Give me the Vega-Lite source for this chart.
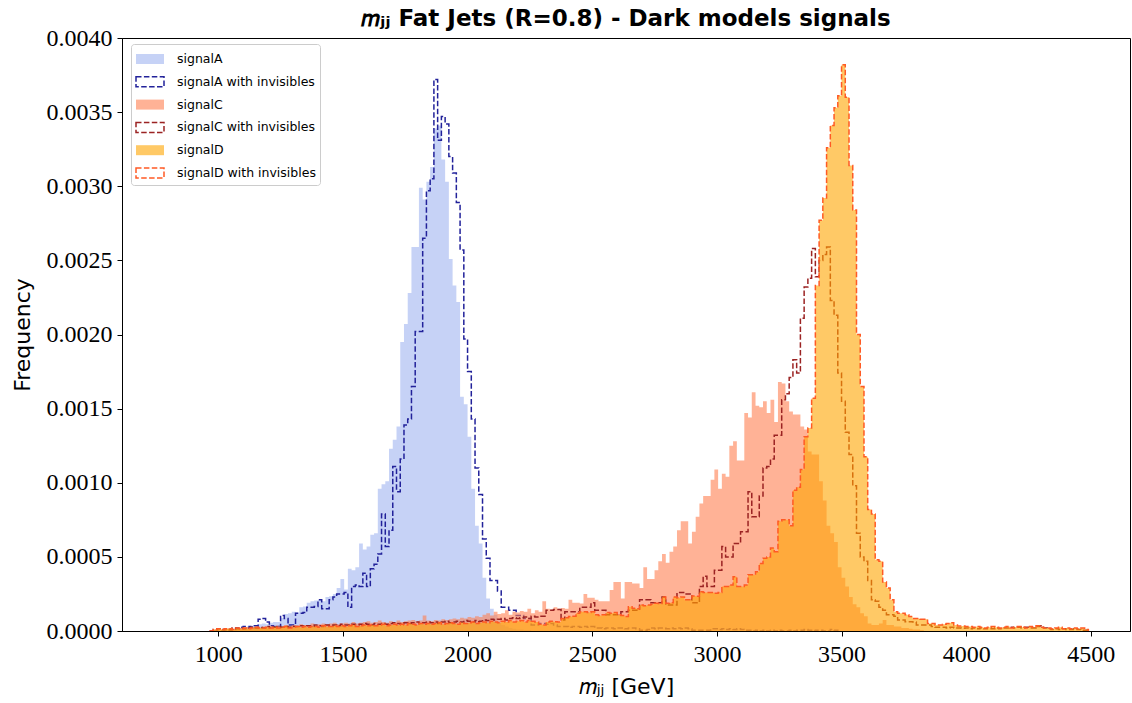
{
"$schema": "https://vega.github.io/schema/vega-lite/v6.json",
"width": 1008, "height": 593,
"autosize": {"type": "none"},
"padding": {"left": 122, "top": 38, "right": 2, "bottom": 72},
"background": "white",
"title": {"text": "𝑚ⱼⱼ Fat Jets (R=0.8) - Dark models signals", "font": "DejaVu Sans", "fontSize": 23, "fontWeight": "bold", "color": "black", "anchor": "middle", "frame": "group", "baseline": "alphabetic", "offset": 0, "dy": 23},
"config": {"view": {"stroke": "black", "strokeWidth": 1},
  "legend": {"padding": 4, "rowPadding": 3.8, "fillColor": "white", "strokeColor": "#cccccc", "cornerRadius": 3, "symbolSize": 400, "symbolStrokeWidth": 1.5, "symbolOpacity": 1, "labelFont": "DejaVu Sans", "labelFontSize": 12.5, "labelColor": "black", "labelOffset": 20}},
"datasets": {
"A": [{"x":980,"y":0},{"x":995,"y":0},{"x":1010,"y":0},{"x":1025,"y":0.000005},{"x":1040,"y":0.000005},{"x":1055,"y":0.00001},{"x":1070,"y":0.00001},{"x":1085,"y":0.000015},{"x":1100,"y":0.00002},{"x":1115,"y":0.00003},{"x":1130,"y":0.000035},{"x":1145,"y":0.00004},{"x":1160,"y":0.000045},{"x":1175,"y":0.00005},{"x":1190,"y":0.000045},{"x":1205,"y":0.000055},{"x":1220,"y":0.00006},{"x":1235,"y":0.00006},{"x":1250,"y":0.00009},{"x":1265,"y":0.000115},{"x":1280,"y":0.00012},{"x":1295,"y":0.00013},{"x":1310,"y":0.000125},{"x":1325,"y":0.00016},{"x":1340,"y":0.000165},{"x":1355,"y":0.00019},{"x":1370,"y":0.0002},{"x":1385,"y":0.000205},{"x":1400,"y":0.00021},{"x":1415,"y":0.0002},{"x":1430,"y":0.00023},{"x":1445,"y":0.000235},{"x":1460,"y":0.00025},{"x":1475,"y":0.00029},{"x":1490,"y":0.00035},{"x":1505,"y":0.00028},{"x":1520,"y":0.00042},{"x":1535,"y":0.00041},{"x":1550,"y":0.00043},{"x":1565,"y":0.00059},{"x":1580,"y":0.00055},{"x":1595,"y":0.00057},{"x":1610,"y":0.00065},{"x":1625,"y":0.00066},{"x":1640,"y":0.00096},{"x":1655,"y":0.00099},{"x":1670,"y":0.00101},{"x":1685,"y":0.00123},{"x":1700,"y":0.00129},{"x":1715,"y":0.00138},{"x":1730,"y":0.00195},{"x":1745,"y":0.00207},{"x":1760,"y":0.00228},{"x":1775,"y":0.00259},{"x":1790,"y":0.00259},{"x":1805,"y":0.00299},{"x":1820,"y":0.00291},{"x":1835,"y":0.00303},{"x":1850,"y":0.00313},{"x":1865,"y":0.00339},{"x":1880,"y":0.00341},{"x":1895,"y":0.00318},{"x":1910,"y":0.00303},{"x":1925,"y":0.00251},{"x":1940,"y":0.00233},{"x":1955,"y":0.00222},{"x":1970,"y":0.00158},{"x":1985,"y":0.00153},{"x":2000,"y":0.00131},{"x":2015,"y":0.00096},{"x":2030,"y":0.00071},{"x":2045,"y":0.00059},{"x":2060,"y":0.00036},{"x":2075,"y":0.00022},{"x":2090,"y":0.00015},{"x":2105,"y":0.00011},{"x":2120,"y":0.00007},{"x":2135,"y":0.00004},{"x":2150,"y":0.00003},{"x":2165,"y":0.00002},{"x":2180,"y":0.000015},{"x":2195,"y":0.00001},{"x":2210,"y":0.00001},{"x":2225,"y":0.000005},{"x":2240,"y":0.000005},{"x":2255,"y":0}],
"Ai": [{"x":980,"y":0},{"x":995,"y":0},{"x":1010,"y":0},{"x":1025,"y":0},{"x":1040,"y":0.000005},{"x":1055,"y":0.00001},{"x":1070,"y":0.00002},{"x":1085,"y":0.000025},{"x":1100,"y":0.00003},{"x":1115,"y":0.00003},{"x":1130,"y":0.000025},{"x":1145,"y":0.000035},{"x":1160,"y":0.00008},{"x":1175,"y":0.000085},{"x":1190,"y":0.00006},{"x":1205,"y":0.000035},{"x":1220,"y":0.00003},{"x":1235,"y":0.00003},{"x":1250,"y":0.000105},{"x":1265,"y":0.000085},{"x":1280,"y":0.00004},{"x":1295,"y":0.00004},{"x":1310,"y":0.00012},{"x":1325,"y":0.00012},{"x":1340,"y":0.000125},{"x":1355,"y":0.00016},{"x":1370,"y":0.00016},{"x":1385,"y":0.000165},{"x":1400,"y":0.00021},{"x":1415,"y":0.00015},{"x":1430,"y":0.00015},{"x":1445,"y":0.00021},{"x":1460,"y":0.00023},{"x":1475,"y":0.00025},{"x":1490,"y":0.00025},{"x":1505,"y":0.00026},{"x":1520,"y":0.00016},{"x":1535,"y":0.0003},{"x":1550,"y":0.00031},{"x":1565,"y":0.0003},{"x":1580,"y":0.00039},{"x":1595,"y":0.0003},{"x":1610,"y":0.00042},{"x":1625,"y":0.00045},{"x":1640,"y":0.00052},{"x":1655,"y":0.00079},{"x":1670,"y":0.00057},{"x":1685,"y":0.00068},{"x":1700,"y":0.00111},{"x":1715,"y":0.00094},{"x":1730,"y":0.00116},{"x":1745,"y":0.00139},{"x":1760,"y":0.00143},{"x":1775,"y":0.00165},{"x":1790,"y":0.00202},{"x":1805,"y":0.00202},{"x":1820,"y":0.00265},{"x":1835,"y":0.00297},{"x":1850,"y":0.00305},{"x":1865,"y":0.00372},{"x":1880,"y":0.00331},{"x":1895,"y":0.00347},{"x":1910,"y":0.00342},{"x":1925,"y":0.0032},{"x":1940,"y":0.00309},{"x":1955,"y":0.00289},{"x":1970,"y":0.00257},{"x":1985,"y":0.00197},{"x":2000,"y":0.00175},{"x":2015,"y":0.00143},{"x":2030,"y":0.0011},{"x":2045,"y":0.00092},{"x":2060,"y":0.00062},{"x":2075,"y":0.00049},{"x":2090,"y":0.00034},{"x":2105,"y":0.00034},{"x":2120,"y":0.00027},{"x":2135,"y":0.00016},{"x":2150,"y":0.00016},{"x":2165,"y":0.00014},{"x":2180,"y":0.00014},{"x":2195,"y":0.000105},{"x":2210,"y":0.000105},{"x":2225,"y":0.000085},{"x":2240,"y":0.000085},{"x":2255,"y":0.00004},{"x":2270,"y":0.00004},{"x":2285,"y":0.00005},{"x":2300,"y":0.00005},{"x":2315,"y":0.000045},{"x":2330,"y":0.00005},{"x":2345,"y":0.00004},{"x":2360,"y":0.00003},{"x":2375,"y":0.00003},{"x":2390,"y":0.00003},{"x":2405,"y":0.000025},{"x":2420,"y":0.00003},{"x":2435,"y":0.00003},{"x":2450,"y":0.000025},{"x":2465,"y":0.00003},{"x":2480,"y":0.000025},{"x":2495,"y":0.00003},{"x":2510,"y":0.00002},{"x":2525,"y":0.00002},{"x":2540,"y":0.000015},{"x":2555,"y":0.00002},{"x":2570,"y":0.00002},{"x":2585,"y":0.000015},{"x":2600,"y":0.00002},{"x":2615,"y":0.00002},{"x":2630,"y":0.000015},{"x":2645,"y":0.00002},{"x":2660,"y":0.00002},{"x":2675,"y":0.000015},{"x":2690,"y":0.000005},{"x":2705,"y":0.000005},{"x":2720,"y":0.00001},{"x":2735,"y":0.00002},{"x":2750,"y":0.000015},{"x":2765,"y":0.00002},{"x":2780,"y":0.00002},{"x":2795,"y":0.000015},{"x":2810,"y":0.00002},{"x":2825,"y":0.000015},{"x":2840,"y":0.00002},{"x":2855,"y":0.000015},{"x":2870,"y":0.00002},{"x":2885,"y":0.000015},{"x":2900,"y":0.000005},{"x":2915,"y":0.000005},{"x":2930,"y":0.000005},{"x":2945,"y":0.000005},{"x":2960,"y":0.000005},{"x":2975,"y":0.000015},{"x":2990,"y":0.000015},{"x":3005,"y":0.00001},{"x":3020,"y":0.000015},{"x":3035,"y":0.00001},{"x":3050,"y":0.000015},{"x":3065,"y":0.00001},{"x":3080,"y":0.000015},{"x":3095,"y":0.00001},{"x":3110,"y":0.000005},{"x":3125,"y":0.000005},{"x":3140,"y":0},{"x":3155,"y":0.000005},{"x":3170,"y":0},{"x":3185,"y":0.000005},{"x":3200,"y":0},{"x":3215,"y":0.000005},{"x":3230,"y":0},{"x":3245,"y":0.000005},{"x":3260,"y":0},{"x":3275,"y":0},{"x":3290,"y":0.000005},{"x":3305,"y":0},{"x":3320,"y":0.000005},{"x":3335,"y":0.000005},{"x":3350,"y":0.00001},{"x":3365,"y":0.000005},{"x":3380,"y":0},{"x":3395,"y":0.000005},{"x":3410,"y":0.000005},{"x":3425,"y":0},{"x":3440,"y":0},{"x":3455,"y":0.00001},{"x":3470,"y":0.000005},{"x":3485,"y":0}],
"C": [{"x":965,"y":0},{"x":980,"y":0.00001},{"x":995,"y":0.000015},{"x":1010,"y":0.00001},{"x":1025,"y":0.000015},{"x":1040,"y":0.00002},{"x":1055,"y":0.000015},{"x":1070,"y":0.00002},{"x":1085,"y":0.00002},{"x":1100,"y":0.000025},{"x":1115,"y":0.00002},{"x":1130,"y":0.000025},{"x":1145,"y":0.00003},{"x":1160,"y":0.000025},{"x":1175,"y":0.00003},{"x":1190,"y":0.00003},{"x":1205,"y":0.000035},{"x":1220,"y":0.00003},{"x":1235,"y":0.000035},{"x":1250,"y":0.00003},{"x":1265,"y":0.00004},{"x":1280,"y":0.000035},{"x":1295,"y":0.00004},{"x":1310,"y":0.000035},{"x":1325,"y":0.000045},{"x":1340,"y":0.00004},{"x":1355,"y":0.00004},{"x":1370,"y":0.00005},{"x":1385,"y":0.00004},{"x":1400,"y":0.000045},{"x":1415,"y":0.00005},{"x":1430,"y":0.000045},{"x":1445,"y":0.00005},{"x":1460,"y":0.000055},{"x":1475,"y":0.000045},{"x":1490,"y":0.00005},{"x":1505,"y":0.000055},{"x":1520,"y":0.00005},{"x":1535,"y":0.00006},{"x":1550,"y":0.00005},{"x":1565,"y":0.000055},{"x":1580,"y":0.00006},{"x":1595,"y":0.000065},{"x":1610,"y":0.000055},{"x":1625,"y":0.00006},{"x":1640,"y":0.00007},{"x":1655,"y":0.00006},{"x":1670,"y":0.000055},{"x":1685,"y":0.000065},{"x":1700,"y":0.00006},{"x":1715,"y":0.00007},{"x":1730,"y":0.00006},{"x":1745,"y":0.000065},{"x":1760,"y":0.00007},{"x":1775,"y":0.000075},{"x":1790,"y":0.000065},{"x":1805,"y":0.00007},{"x":1820,"y":0.000105},{"x":1835,"y":0.00007},{"x":1850,"y":0.000065},{"x":1865,"y":0.000075},{"x":1880,"y":0.00007},{"x":1895,"y":0.00008},{"x":1910,"y":0.000075},{"x":1925,"y":0.00008},{"x":1940,"y":0.000085},{"x":1955,"y":0.00008},{"x":1970,"y":0.00009},{"x":1985,"y":0.000085},{"x":2000,"y":0.000095},{"x":2015,"y":0.00009},{"x":2030,"y":0.0001},{"x":2045,"y":0.000095},{"x":2060,"y":0.00011},{"x":2075,"y":0.00012},{"x":2090,"y":0.000105},{"x":2105,"y":0.00013},{"x":2120,"y":0.000115},{"x":2135,"y":0.00012},{"x":2150,"y":0.00014},{"x":2165,"y":0.00011},{"x":2180,"y":0.00013},{"x":2195,"y":0.000125},{"x":2210,"y":0.000135},{"x":2225,"y":0.00013},{"x":2240,"y":0.00015},{"x":2255,"y":0.00012},{"x":2270,"y":0.00014},{"x":2285,"y":0.00013},{"x":2300,"y":0.0002},{"x":2315,"y":0.00015},{"x":2330,"y":0.000145},{"x":2345,"y":0.00016},{"x":2360,"y":0.00015},{"x":2375,"y":0.000155},{"x":2390,"y":0.00015},{"x":2405,"y":0.00021},{"x":2420,"y":0.00019},{"x":2435,"y":0.00019},{"x":2450,"y":0.000185},{"x":2465,"y":0.00025},{"x":2480,"y":0.000225},{"x":2495,"y":0.000225},{"x":2510,"y":0.00021},{"x":2525,"y":0.0002},{"x":2540,"y":0.0002},{"x":2555,"y":0.0002},{"x":2570,"y":0.000276},{"x":2585,"y":0.00033},{"x":2600,"y":0.00033},{"x":2615,"y":0.00022},{"x":2630,"y":0.00033},{"x":2645,"y":0.00033},{"x":2660,"y":0.00032},{"x":2675,"y":0.00032},{"x":2690,"y":0.00029},{"x":2705,"y":0.00043},{"x":2720,"y":0.00035},{"x":2735,"y":0.00035},{"x":2750,"y":0.00041},{"x":2765,"y":0.00047},{"x":2780,"y":0.00052},{"x":2795,"y":0.00046},{"x":2810,"y":0.000535},{"x":2825,"y":0.00057},{"x":2840,"y":0.00068},{"x":2855,"y":0.00074},{"x":2870,"y":0.00074},{"x":2885,"y":0.00059},{"x":2900,"y":0.00067},{"x":2915,"y":0.00077},{"x":2930,"y":0.00086},{"x":2945,"y":0.00091},{"x":2960,"y":0.00091},{"x":2975,"y":0.00102},{"x":2990,"y":0.00109},{"x":3005,"y":0.00096},{"x":3020,"y":0.00106},{"x":3035,"y":0.00104},{"x":3050,"y":0.00125},{"x":3065,"y":0.00128},{"x":3080,"y":0.00115},{"x":3095,"y":0.00115},{"x":3110,"y":0.00147},{"x":3125,"y":0.00144},{"x":3140,"y":0.00161},{"x":3155,"y":0.00152},{"x":3170,"y":0.00151},{"x":3185,"y":0.00155},{"x":3200,"y":0.00147},{"x":3215,"y":0.00156},{"x":3230,"y":0.00141},{"x":3245,"y":0.00168},{"x":3260,"y":0.00167},{"x":3275,"y":0.00155},{"x":3290,"y":0.00148},{"x":3305,"y":0.00146},{"x":3320,"y":0.00146},{"x":3335,"y":0.00138},{"x":3350,"y":0.00136},{"x":3365,"y":0.00121},{"x":3380,"y":0.00119},{"x":3395,"y":0.00119},{"x":3410,"y":0.00101},{"x":3425,"y":0.00088},{"x":3440,"y":0.00071},{"x":3455,"y":0.00066},{"x":3470,"y":0.0006},{"x":3485,"y":0.00043},{"x":3500,"y":0.00036},{"x":3515,"y":0.0003},{"x":3530,"y":0.00023},{"x":3545,"y":0.00018},{"x":3560,"y":0.00016},{"x":3575,"y":0.00012},{"x":3590,"y":0.0001},{"x":3605,"y":0.00005},{"x":3620,"y":0.00004},{"x":3635,"y":0.00004},{"x":3650,"y":0.00005},{"x":3665,"y":0.000074},{"x":3680,"y":0.00004},{"x":3695,"y":0.00004},{"x":3710,"y":0.00003},{"x":3725,"y":0.00003},{"x":3740,"y":0.00002},{"x":3755,"y":0.00002},{"x":3770,"y":0.000015},{"x":3785,"y":0.00001},{"x":3800,"y":0.00001},{"x":3815,"y":0.000005},{"x":3830,"y":0}],
"Ci": [{"x":965,"y":0},{"x":980,"y":0.00001},{"x":995,"y":0.000015},{"x":1010,"y":0.00001},{"x":1025,"y":0.000015},{"x":1040,"y":0.00001},{"x":1055,"y":0.00002},{"x":1070,"y":0.000015},{"x":1085,"y":0.00002},{"x":1100,"y":0.000015},{"x":1115,"y":0.00002},{"x":1130,"y":0.000025},{"x":1145,"y":0.00002},{"x":1160,"y":0.000025},{"x":1175,"y":0.00002},{"x":1190,"y":0.00003},{"x":1205,"y":0.00002},{"x":1220,"y":0.000025},{"x":1235,"y":0.00003},{"x":1250,"y":0.000025},{"x":1265,"y":0.00003},{"x":1280,"y":0.000025},{"x":1295,"y":0.00003},{"x":1310,"y":0.00003},{"x":1325,"y":0.000035},{"x":1340,"y":0.00003},{"x":1355,"y":0.000035},{"x":1370,"y":0.00003},{"x":1385,"y":0.00004},{"x":1400,"y":0.000035},{"x":1415,"y":0.00003},{"x":1430,"y":0.00004},{"x":1445,"y":0.000035},{"x":1460,"y":0.00004},{"x":1475,"y":0.000035},{"x":1490,"y":0.000045},{"x":1505,"y":0.00004},{"x":1520,"y":0.00004},{"x":1535,"y":0.000045},{"x":1550,"y":0.00004},{"x":1565,"y":0.000045},{"x":1580,"y":0.00005},{"x":1595,"y":0.000045},{"x":1610,"y":0.00004},{"x":1625,"y":0.00005},{"x":1640,"y":0.000045},{"x":1655,"y":0.00005},{"x":1670,"y":0.000045},{"x":1685,"y":0.00005},{"x":1700,"y":0.000055},{"x":1715,"y":0.00005},{"x":1730,"y":0.000045},{"x":1745,"y":0.000055},{"x":1760,"y":0.00005},{"x":1775,"y":0.000055},{"x":1790,"y":0.00006},{"x":1805,"y":0.00005},{"x":1820,"y":0.000055},{"x":1835,"y":0.00006},{"x":1850,"y":0.000055},{"x":1865,"y":0.00006},{"x":1880,"y":0.00005},{"x":1895,"y":0.00006},{"x":1910,"y":0.000065},{"x":1925,"y":0.000055},{"x":1940,"y":0.00006},{"x":1955,"y":0.000065},{"x":1970,"y":0.00006},{"x":1985,"y":0.00007},{"x":2000,"y":0.000065},{"x":2015,"y":0.00006},{"x":2030,"y":0.00007},{"x":2045,"y":0.000065},{"x":2060,"y":0.000075},{"x":2075,"y":0.00007},{"x":2090,"y":0.00008},{"x":2105,"y":0.000075},{"x":2120,"y":0.00008},{"x":2135,"y":0.000085},{"x":2150,"y":0.000075},{"x":2165,"y":0.000085},{"x":2180,"y":0.00009},{"x":2195,"y":0.000085},{"x":2210,"y":0.00009},{"x":2225,"y":0.000095},{"x":2240,"y":0.000085},{"x":2255,"y":0.0001},{"x":2270,"y":0.000095},{"x":2285,"y":0.0001},{"x":2300,"y":0.0001},{"x":2315,"y":0.00014},{"x":2330,"y":0.00014},{"x":2345,"y":0.000145},{"x":2360,"y":0.000145},{"x":2375,"y":0.000075},{"x":2390,"y":0.00013},{"x":2405,"y":0.00013},{"x":2420,"y":0.00013},{"x":2435,"y":0.00013},{"x":2450,"y":0.00016},{"x":2465,"y":0.00016},{"x":2480,"y":0.00016},{"x":2495,"y":0.00019},{"x":2510,"y":0.00014},{"x":2525,"y":0.00014},{"x":2540,"y":0.00014},{"x":2555,"y":0.00011},{"x":2570,"y":0.00011},{"x":2585,"y":0.00011},{"x":2600,"y":0.00011},{"x":2615,"y":0.00013},{"x":2630,"y":0.00013},{"x":2645,"y":0.00014},{"x":2660,"y":0.00014},{"x":2675,"y":0.00014},{"x":2690,"y":0.00021},{"x":2705,"y":0.00021},{"x":2720,"y":0.00021},{"x":2735,"y":0.00019},{"x":2750,"y":0.00019},{"x":2765,"y":0.00019},{"x":2780,"y":0.00023},{"x":2795,"y":0.000175},{"x":2810,"y":0.000175},{"x":2825,"y":0.000175},{"x":2840,"y":0.00026},{"x":2855,"y":0.00026},{"x":2870,"y":0.00025},{"x":2885,"y":0.00025},{"x":2900,"y":0.00019},{"x":2915,"y":0.00019},{"x":2930,"y":0.0003},{"x":2945,"y":0.00037},{"x":2960,"y":0.0003},{"x":2975,"y":0.0003},{"x":2990,"y":0.00041},{"x":3005,"y":0.00041},{"x":3020,"y":0.00057},{"x":3035,"y":0.0005},{"x":3050,"y":0.0005},{"x":3065,"y":0.00059},{"x":3080,"y":0.00059},{"x":3095,"y":0.00067},{"x":3110,"y":0.00067},{"x":3125,"y":0.00094},{"x":3140,"y":0.00077},{"x":3155,"y":0.00077},{"x":3170,"y":0.00091},{"x":3185,"y":0.0011},{"x":3200,"y":0.00111},{"x":3215,"y":0.00116},{"x":3230,"y":0.00132},{"x":3245,"y":0.00132},{"x":3260,"y":0.00156},{"x":3275,"y":0.0016},{"x":3290,"y":0.00171},{"x":3305,"y":0.00183},{"x":3320,"y":0.00174},{"x":3335,"y":0.00211},{"x":3350,"y":0.00232},{"x":3365,"y":0.00238},{"x":3380,"y":0.00258},{"x":3395,"y":0.00239},{"x":3410,"y":0.0025},{"x":3425,"y":0.00254},{"x":3440,"y":0.00259},{"x":3455,"y":0.00223},{"x":3470,"y":0.00213},{"x":3485,"y":0.00174},{"x":3500,"y":0.00155},{"x":3515,"y":0.00134},{"x":3530,"y":0.00119},{"x":3545,"y":0.00098},{"x":3560,"y":0.00066},{"x":3575,"y":0.0005},{"x":3590,"y":0.00047},{"x":3605,"y":0.00034},{"x":3620,"y":0.00021},{"x":3635,"y":0.0002},{"x":3650,"y":0.00016},{"x":3665,"y":0.00014},{"x":3680,"y":0.00011},{"x":3695,"y":0.00011},{"x":3710,"y":0.0001},{"x":3725,"y":0.000074},{"x":3740,"y":0.000074},{"x":3755,"y":0.000063},{"x":3770,"y":0.000063},{"x":3785,"y":0.00006},{"x":3800,"y":0.00004},{"x":3815,"y":0.00004},{"x":3830,"y":0.00004},{"x":3845,"y":0.00004},{"x":3860,"y":0.00003},{"x":3875,"y":0.000025},{"x":3890,"y":0.000025},{"x":3905,"y":0.000025},{"x":3920,"y":0.00002},{"x":3935,"y":0.000025},{"x":3950,"y":0.00002},{"x":3965,"y":0.00002},{"x":3980,"y":0.000018},{"x":3995,"y":0.00002},{"x":4010,"y":0.000015},{"x":4025,"y":0.00002},{"x":4040,"y":0.000015},{"x":4055,"y":0.00002},{"x":4070,"y":0.000015},{"x":4085,"y":0.00002},{"x":4100,"y":0.000015},{"x":4115,"y":0.00002},{"x":4130,"y":0.000015},{"x":4145,"y":0.00002},{"x":4160,"y":0.00002},{"x":4175,"y":0.000025},{"x":4190,"y":0.00002},{"x":4205,"y":0.000025},{"x":4220,"y":0.00002},{"x":4235,"y":0.000025},{"x":4250,"y":0.00002},{"x":4265,"y":0.00002},{"x":4280,"y":0.00003},{"x":4295,"y":0.000035},{"x":4310,"y":0.00002},{"x":4325,"y":0.000015},{"x":4340,"y":0.00001},{"x":4355,"y":0.000015},{"x":4370,"y":0.00001},{"x":4385,"y":0.000015},{"x":4400,"y":0.00001},{"x":4415,"y":0.00001},{"x":4430,"y":0.000015},{"x":4445,"y":0.00001},{"x":4460,"y":0.000005},{"x":4475,"y":0.000005},{"x":4490,"y":0}],
"D": [{"x":965,"y":0},{"x":980,"y":0.00001},{"x":995,"y":0.000015},{"x":1010,"y":0.00001},{"x":1025,"y":0.000015},{"x":1040,"y":0.000015},{"x":1055,"y":0.00001},{"x":1070,"y":0.00002},{"x":1085,"y":0.000015},{"x":1100,"y":0.00002},{"x":1115,"y":0.000015},{"x":1130,"y":0.00002},{"x":1145,"y":0.000025},{"x":1160,"y":0.00002},{"x":1175,"y":0.00002},{"x":1190,"y":0.000025},{"x":1205,"y":0.00002},{"x":1220,"y":0.000025},{"x":1235,"y":0.00002},{"x":1250,"y":0.000025},{"x":1265,"y":0.00003},{"x":1280,"y":0.00002},{"x":1295,"y":0.000025},{"x":1310,"y":0.00003},{"x":1325,"y":0.000025},{"x":1340,"y":0.00003},{"x":1355,"y":0.000025},{"x":1370,"y":0.00003},{"x":1385,"y":0.00003},{"x":1400,"y":0.000025},{"x":1415,"y":0.000035},{"x":1430,"y":0.00003},{"x":1445,"y":0.00003},{"x":1460,"y":0.000035},{"x":1475,"y":0.00003},{"x":1490,"y":0.000035},{"x":1505,"y":0.00003},{"x":1520,"y":0.000035},{"x":1535,"y":0.00004},{"x":1550,"y":0.00003},{"x":1565,"y":0.000035},{"x":1580,"y":0.00004},{"x":1595,"y":0.000035},{"x":1610,"y":0.00004},{"x":1625,"y":0.000035},{"x":1640,"y":0.00004},{"x":1655,"y":0.000045},{"x":1670,"y":0.000035},{"x":1685,"y":0.00004},{"x":1700,"y":0.000045},{"x":1715,"y":0.00004},{"x":1730,"y":0.000045},{"x":1745,"y":0.00004},{"x":1760,"y":0.00005},{"x":1775,"y":0.000045},{"x":1790,"y":0.00004},{"x":1805,"y":0.00005},{"x":1820,"y":0.000045},{"x":1835,"y":0.00005},{"x":1850,"y":0.000045},{"x":1865,"y":0.00005},{"x":1880,"y":0.000055},{"x":1895,"y":0.000045},{"x":1910,"y":0.00005},{"x":1925,"y":0.000055},{"x":1940,"y":0.00005},{"x":1955,"y":0.000045},{"x":1970,"y":0.000055},{"x":1985,"y":0.00005},{"x":2000,"y":0.000055},{"x":2015,"y":0.00006},{"x":2030,"y":0.00005},{"x":2045,"y":0.000055},{"x":2060,"y":0.00006},{"x":2075,"y":0.000055},{"x":2090,"y":0.000065},{"x":2105,"y":0.00006},{"x":2120,"y":0.000055},{"x":2135,"y":0.000065},{"x":2150,"y":0.00006},{"x":2165,"y":0.00007},{"x":2180,"y":0.00006},{"x":2195,"y":0.000065},{"x":2210,"y":0.00007},{"x":2225,"y":0.00006},{"x":2240,"y":0.00007},{"x":2255,"y":0.000065},{"x":2270,"y":0.00006},{"x":2285,"y":0.000045},{"x":2300,"y":0.00004},{"x":2315,"y":0.00006},{"x":2330,"y":0.000065},{"x":2345,"y":0.000063},{"x":2360,"y":0.00006},{"x":2375,"y":0.000085},{"x":2390,"y":0.00009},{"x":2405,"y":0.000097},{"x":2420,"y":0.0001},{"x":2435,"y":0.00012},{"x":2450,"y":0.00013},{"x":2465,"y":0.00013},{"x":2480,"y":0.000125},{"x":2495,"y":0.00013},{"x":2510,"y":0.00011},{"x":2525,"y":0.000105},{"x":2540,"y":0.00011},{"x":2555,"y":0.000125},{"x":2570,"y":0.00012},{"x":2585,"y":0.000124},{"x":2600,"y":0.00011},{"x":2615,"y":0.000105},{"x":2630,"y":0.000097},{"x":2645,"y":0.000164},{"x":2660,"y":0.000153},{"x":2675,"y":0.00015},{"x":2690,"y":0.000175},{"x":2705,"y":0.00017},{"x":2720,"y":0.000175},{"x":2735,"y":0.00018},{"x":2750,"y":0.000187},{"x":2765,"y":0.000185},{"x":2780,"y":0.00023},{"x":2795,"y":0.000187},{"x":2810,"y":0.00019},{"x":2825,"y":0.00023},{"x":2840,"y":0.000225},{"x":2855,"y":0.00023},{"x":2870,"y":0.00021},{"x":2885,"y":0.00021},{"x":2900,"y":0.000236},{"x":2915,"y":0.000235},{"x":2930,"y":0.000265},{"x":2945,"y":0.00026},{"x":2960,"y":0.00026},{"x":2975,"y":0.00026},{"x":2990,"y":0.000255},{"x":3005,"y":0.00026},{"x":3020,"y":0.0003},{"x":3035,"y":0.0003},{"x":3050,"y":0.00031},{"x":3065,"y":0.000366},{"x":3080,"y":0.0003},{"x":3095,"y":0.0003},{"x":3110,"y":0.00031},{"x":3125,"y":0.00038},{"x":3140,"y":0.00038},{"x":3155,"y":0.0004},{"x":3170,"y":0.000456},{"x":3185,"y":0.00049},{"x":3200,"y":0.0005},{"x":3215,"y":0.00056},{"x":3230,"y":0.000535},{"x":3245,"y":0.00074},{"x":3260,"y":0.00075},{"x":3275,"y":0.00075},{"x":3290,"y":0.00071},{"x":3305,"y":0.00095},{"x":3320,"y":0.00097},{"x":3335,"y":0.00109},{"x":3350,"y":0.00131},{"x":3365,"y":0.00137},{"x":3380,"y":0.00157},{"x":3395,"y":0.00233},{"x":3410,"y":0.00277},{"x":3425,"y":0.00292},{"x":3440,"y":0.00326},{"x":3455,"y":0.00341},{"x":3470,"y":0.00353},{"x":3485,"y":0.00361},{"x":3500,"y":0.00382},{"x":3515,"y":0.0036},{"x":3530,"y":0.00314},{"x":3545,"y":0.00284},{"x":3560,"y":0.002},{"x":3575,"y":0.00165},{"x":3590,"y":0.001175},{"x":3605,"y":0.00082},{"x":3620,"y":0.00079},{"x":3635,"y":0.00048},{"x":3650,"y":0.00047},{"x":3665,"y":0.00033},{"x":3680,"y":0.00029},{"x":3695,"y":0.00021},{"x":3710,"y":0.00013},{"x":3725,"y":0.00012},{"x":3740,"y":0.00012},{"x":3755,"y":0.00011},{"x":3770,"y":0.000097},{"x":3785,"y":0.000085},{"x":3800,"y":0.000085},{"x":3815,"y":0.00008},{"x":3830,"y":0.00008},{"x":3845,"y":0.00005},{"x":3860,"y":0.00005},{"x":3875,"y":0.00004},{"x":3890,"y":0.00004},{"x":3905,"y":0.000045},{"x":3920,"y":0.00005},{"x":3935,"y":0.000056},{"x":3950,"y":0.00004},{"x":3965,"y":0.000034},{"x":3980,"y":0.000034},{"x":3995,"y":0.00003},{"x":4010,"y":0.00003},{"x":4025,"y":0.000025},{"x":4040,"y":0.00003},{"x":4055,"y":0.000025},{"x":4070,"y":0.00002},{"x":4085,"y":0.000025},{"x":4100,"y":0.00003},{"x":4115,"y":0.000025},{"x":4130,"y":0.00002},{"x":4145,"y":0.000025},{"x":4160,"y":0.00003},{"x":4175,"y":0.00002},{"x":4190,"y":0.000025},{"x":4205,"y":0.00003},{"x":4220,"y":0.000025},{"x":4235,"y":0.00002},{"x":4250,"y":0.00003},{"x":4265,"y":0.000025},{"x":4280,"y":0.000035},{"x":4295,"y":0.000025},{"x":4310,"y":0.00002},{"x":4325,"y":0.00002},{"x":4340,"y":0.000015},{"x":4355,"y":0.00002},{"x":4370,"y":0.000025},{"x":4385,"y":0.000015},{"x":4400,"y":0.00002},{"x":4415,"y":0.000015},{"x":4430,"y":0.00002},{"x":4445,"y":0.000015},{"x":4460,"y":0.00002},{"x":4475,"y":0.00001},{"x":4490,"y":0}]
},
"encoding": {
  "x": {"field": "x", "type": "quantitative",
    "scale": {"domain": [614, 4657], "nice": false, "zero": false},
    "axis": {"values": [1000,1500,2000,2500,3000,3500,4000,4500], "format": "d", "grid": false, "zindex": 1,
      "domainColor": "black", "domainWidth": 1, "tickColor": "black", "tickSize": 5, "tickWidth": 1,
      "labelFont": "Liberation Serif", "labelFontSize": 24, "labelColor": "black", "labelPadding": 6, "labelFlush": false, "labelOverlap": false,
      "title": "𝑚ⱼⱼ [GeV]", "titleFont": "DejaVu Sans", "titleFontSize": 22, "titleFontWeight": "normal", "titleColor": "black",
      "titleBaseline": "alphabetic", "titleY": 62}},
  "y": {"field": "y", "type": "quantitative",
    "scale": {"domain": [0, 0.004], "nice": false},
    "axis": {"values": [0,0.0005,0.001,0.0015,0.002,0.0025,0.003,0.0035,0.004], "format": ".4f", "grid": false, "zindex": 1,
      "domainColor": "black", "domainWidth": 1, "tickColor": "black", "tickSize": 5, "tickWidth": 1,
      "labelFont": "Liberation Serif", "labelFontSize": 24, "labelColor": "black", "labelPadding": 5, "labelFlush": false, "labelOverlap": false,
      "title": "Frequency", "titleFont": "DejaVu Sans", "titleFontSize": 22, "titleFontWeight": "normal", "titleColor": "black",
      "titleBaseline": "alphabetic", "titleX": -93}}
},
"layer": [
  {"data": {"name": "A"}, "mark": {"type": "area", "interpolate": "step-after"},
   "encoding": {
     "fill": {"datum": "signalA", "type": "nominal",
       "scale": {"domain": ["signalA","signalA with invisibles","signalC","signalC with invisibles","signalD","signalD with invisibles"],
                 "range": ["rgba(65,105,225,0.3)","transparent","rgba(255,127,80,0.6)","transparent","rgba(255,165,0,0.6)","transparent"]},
       "legend": {"title": null, "orient": "none", "legendX": 9, "legendY": 6, "symbolType": "M-1,-0.5H1.8V0.5H-1Z"}}}},
  {"data": {"name": "Ai"}, "mark": {"type": "line", "interpolate": "step-after", "strokeWidth": 1.5},
   "encoding": {
     "stroke": {"datum": "signalA with invisibles", "type": "nominal",
       "scale": {"domain": ["signalA","signalA with invisibles","signalC","signalC with invisibles","signalD","signalD with invisibles"],
                 "range": ["transparent","#22229a","transparent","#9b2323","transparent","#ff5a24"]},
       "legend": {"title": null, "orient": "none", "legendX": 9, "legendY": 6, "symbolType": "M-1,-0.5H1.8V0.5H-1Z"}},
     "strokeDash": {"datum": "signalA with invisibles", "type": "nominal",
       "scale": {"domain": ["signalA","signalA with invisibles","signalC","signalC with invisibles","signalD","signalD with invisibles"],
                 "range": [[1,0],[5.5,2.4],[1,0],[5.5,2.4],[1,0],[5.5,2.4]]},
       "legend": {"title": null, "orient": "none", "legendX": 9, "legendY": 6, "symbolType": "M-1,-0.5H1.8V0.5H-1Z"}}}},
  {"data": {"name": "C"}, "mark": {"type": "area", "interpolate": "step-after"},
   "encoding": {"fill": {"datum": "signalC", "type": "nominal"}}},
  {"data": {"name": "Ci"}, "mark": {"type": "line", "interpolate": "step-after", "strokeWidth": 1.5},
   "encoding": {"stroke": {"datum": "signalC with invisibles", "type": "nominal"}, "strokeDash": {"datum": "signalC with invisibles", "type": "nominal"}}},
  {"data": {"name": "D"}, "mark": {"type": "area", "interpolate": "step-after"},
   "encoding": {"fill": {"datum": "signalD", "type": "nominal"}}},
  {"data": {"name": "D"}, "mark": {"type": "line", "interpolate": "step-after", "strokeWidth": 1.5},
   "encoding": {"stroke": {"datum": "signalD with invisibles", "type": "nominal"}, "strokeDash": {"datum": "signalD with invisibles", "type": "nominal"}}}
]
}
